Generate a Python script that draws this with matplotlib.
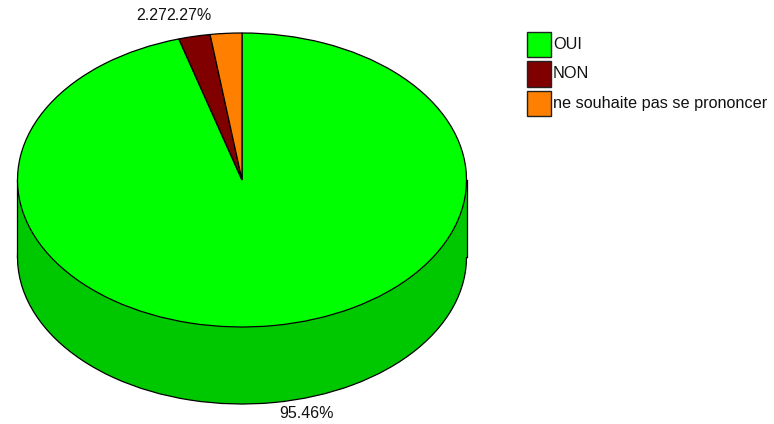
import matplotlib
matplotlib.use("Agg")
import matplotlib.pyplot as plt
from matplotlib.patches import Rectangle

plt.rcParams['font.family'] = ['Liberation Sans', 'DejaVu Sans']

# Survey answers (shares in %)
categories = ["OUI", "NON", "ne souhaite pas se prononcer"]
shares = [95.46, 2.27, 2.27]
top_colors = ["#00ff00", "#800000", "#ff8000"]
side_colors = ["#00c800", "#600000", "#c86000"]
value_labels = ["95.46%", "2.27%", "2.27%"]

W, H, DPI = 774, 424, 100
fig = plt.figure(figsize=(W / DPI, H / DPI), dpi=DPI)
ax = fig.add_axes([0, 0, 1, 1])

# Pixel geometry of the ellipse used to scale the axes
cx, cy = 242.0, 180.0      # centre of the top face
rx, ry = 224.5, 147.0      # horizontal / vertical radii
depth_px = 77.0            # thickness of the cylinder side
depth = depth_px / ry

lw = 0.9

# Side of the cylinder: lower pie plus a band joining both faces
ax.pie(shares, colors=side_colors, startangle=90, counterclock=False,
       center=(0, -depth), radius=1,
       wedgeprops=dict(edgecolor="black", linewidth=lw), frame=True)
ax.add_patch(Rectangle((-1, -depth), 2, depth, facecolor=side_colors[0],
                       edgecolor="none", zorder=2))
ax.plot([-1, -1], [-depth, 0], color="black", lw=lw, zorder=2.5)
ax.plot([1, 1], [-depth, 0], color="black", lw=lw, zorder=2.5)

# Top face
wedges, _ = ax.pie(shares, colors=top_colors, startangle=90, counterclock=False,
                   center=(0, 0), radius=1,
                   wedgeprops=dict(edgecolor="black", linewidth=lw),
                   frame=True)
for w in wedges:
    w.set_zorder(3)

ax.set_aspect("auto")
ax.set_xlim(-cx / rx, (W - cx) / rx)
ax.set_ylim(-(H - cy) / ry, cy / ry)
ax.axis("off")


def to_fig(px, py):
    return px / W, 1 - py / H


# Value labels (the later label is drawn over the earlier one)
fs = 11.5
fig.text(*to_fig(159, 15), value_labels[1], ha="center", va="center",
         fontsize=fs, color="#111111",
         bbox=dict(facecolor="white", edgecolor="none", pad=0.5), zorder=5)
fig.text(*to_fig(189, 15), value_labels[2], ha="center", va="center",
         fontsize=fs, color="#111111",
         bbox=dict(facecolor="white", edgecolor="none", pad=0.5), zorder=6)
fig.text(*to_fig(307, 413), value_labels[0], ha="center", va="center",
         fontsize=fs, color="#111111")

# Legend: colour boxes with labels
box_x, box_w, box_h = 527, 24, 25
first_top, pitch = 32, 29.5
for i, (name, col) in enumerate(zip(categories, top_colors)):
    top = first_top + i * pitch
    x0, y0 = to_fig(box_x, top + box_h)
    fig.add_artist(Rectangle((x0, y0), box_w / W, box_h / H,
                             transform=fig.transFigure, facecolor=col,
                             edgecolor="#222222", linewidth=1.0))
    fig.text(*to_fig(box_x + box_w + 2, top + box_h / 2), name,
             ha="left", va="center", fontsize=11.7, color="#111111")

fig.savefig("out.png", dpi=DPI)
